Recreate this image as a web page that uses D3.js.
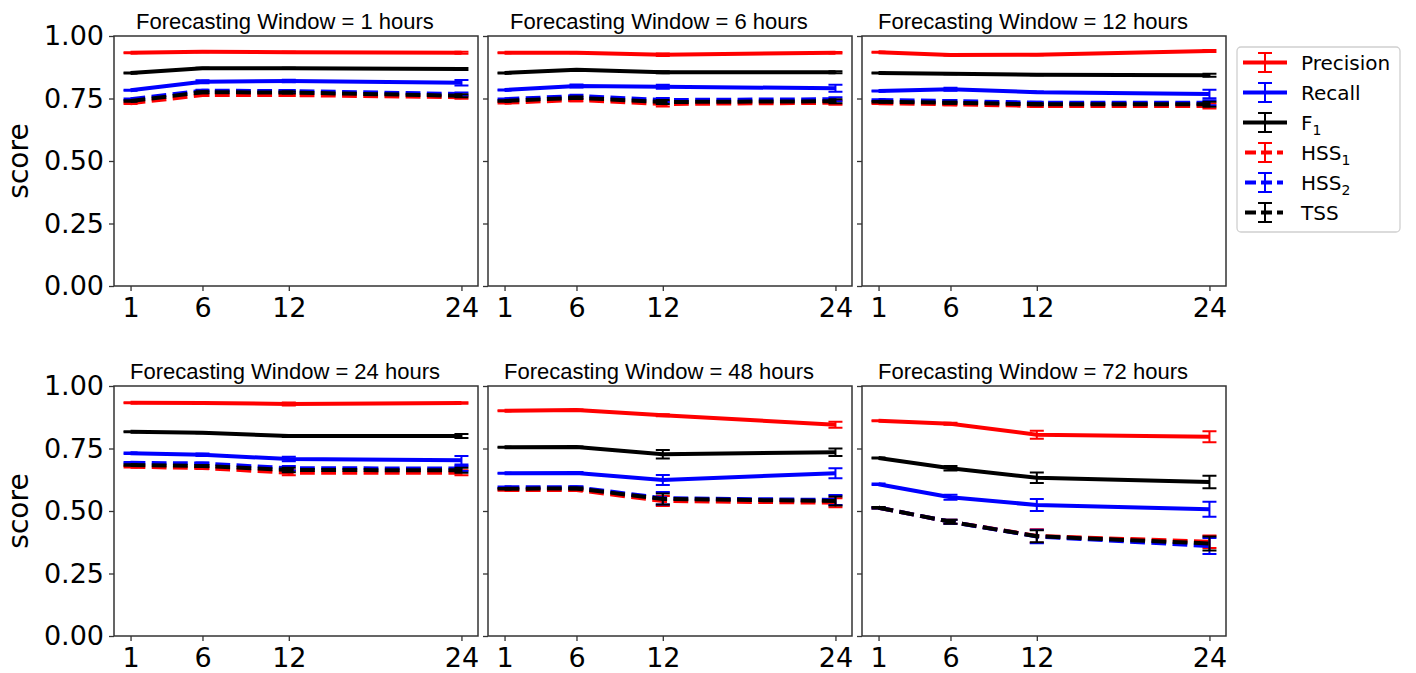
<!DOCTYPE html>
<html>
<head>
<meta charset="utf-8">
<script src="https://cdn.jsdelivr.net/npm/d3@7"></script>
<style>
  body { margin: 0; background: #fff; }
  svg { display: block; }
</style>
</head>
<body>
<script>
// score vs training window (hours), one panel per forecasting window

var hours = [1, 6, 12, 24];
var windows = [1, 6, 12, 24, 48, 72];
var yTicks = [0, 0.25, 0.5, 0.75, 1.0];

// one row per panel (window 1, 6, 12, 24, 48, 72), one value per hour
var precision = [
  [0.933, 0.937, 0.935, 0.933],
  [0.933, 0.933, 0.925, 0.933],
  [0.935, 0.924, 0.925, 0.940],
  [0.933, 0.932, 0.928, 0.932],
  [0.901, 0.904, 0.883, 0.845],
  [0.861, 0.849, 0.805, 0.797]
];
var precisionErr = [
  [0.002, 0.002, 0.002, 0.004],
  [0.002, 0.002, 0.005, 0.003],
  [0.002, 0.002, 0.002, 0.004],
  [0.002, 0.002, 0.006, 0.003],
  [0.002, 0.002, 0.004, 0.012],
  [0.002, 0.004, 0.016, 0.022]
];
var recall = [
  [0.783, 0.817, 0.820, 0.813],
  [0.784, 0.800, 0.797, 0.791],
  [0.780, 0.787, 0.775, 0.768],
  [0.731, 0.725, 0.708, 0.703],
  [0.651, 0.652, 0.624, 0.651],
  [0.607, 0.555, 0.524, 0.507]
];
var recallErr = [
  [0.002, 0.006, 0.005, 0.011],
  [0.002, 0.006, 0.008, 0.014],
  [0.002, 0.006, 0.003, 0.017],
  [0.003, 0.005, 0.009, 0.017],
  [0.002, 0.004, 0.020, 0.020],
  [0.003, 0.010, 0.024, 0.030]
];
var f1 = [
  [0.852, 0.871, 0.871, 0.868],
  [0.852, 0.865, 0.855, 0.855],
  [0.852, 0.849, 0.845, 0.843],
  [0.817, 0.813, 0.800, 0.800],
  [0.755, 0.756, 0.727, 0.735],
  [0.712, 0.671, 0.633, 0.616]
];
var f1Err = [
  [0.002, 0.002, 0.002, 0.004],
  [0.002, 0.002, 0.004, 0.004],
  [0.002, 0.002, 0.002, 0.006],
  [0.002, 0.002, 0.004, 0.008],
  [0.002, 0.002, 0.017, 0.015],
  [0.002, 0.009, 0.021, 0.025]
];
var hss1 = [
  [0.731, 0.764, 0.764, 0.755],
  [0.733, 0.744, 0.728, 0.733],
  [0.731, 0.727, 0.720, 0.720],
  [0.677, 0.672, 0.653, 0.653],
  [0.584, 0.584, 0.540, 0.533],
  [0.513, 0.457, 0.400, 0.377]
];
var hss1Err = [
  [0.003, 0.004, 0.004, 0.006],
  [0.003, 0.005, 0.010, 0.008],
  [0.003, 0.004, 0.004, 0.010],
  [0.003, 0.004, 0.010, 0.010],
  [0.003, 0.004, 0.020, 0.018],
  [0.003, 0.008, 0.027, 0.025]
];
var hss2 = [
  [0.747, 0.781, 0.780, 0.768],
  [0.747, 0.760, 0.744, 0.747],
  [0.744, 0.740, 0.733, 0.733],
  [0.693, 0.690, 0.671, 0.670],
  [0.595, 0.595, 0.551, 0.544],
  [0.513, 0.457, 0.398, 0.360]
];
var hss2Err = [
  [0.003, 0.004, 0.004, 0.006],
  [0.003, 0.005, 0.008, 0.008],
  [0.003, 0.004, 0.004, 0.010],
  [0.003, 0.004, 0.009, 0.010],
  [0.003, 0.004, 0.025, 0.020],
  [0.003, 0.008, 0.027, 0.032]
];
var tss = [
  [0.740, 0.775, 0.774, 0.761],
  [0.740, 0.753, 0.736, 0.739],
  [0.737, 0.733, 0.727, 0.727],
  [0.684, 0.680, 0.664, 0.663],
  [0.589, 0.590, 0.548, 0.540],
  [0.513, 0.457, 0.399, 0.370]
];
var tssErr = [
  [0.003, 0.004, 0.004, 0.006],
  [0.003, 0.005, 0.008, 0.008],
  [0.003, 0.004, 0.004, 0.010],
  [0.003, 0.004, 0.009, 0.010],
  [0.003, 0.004, 0.022, 0.018],
  [0.003, 0.008, 0.024, 0.028]
];

var series = [
  {name: "Precision", sub: "", values: precision, err: precisionErr, color: "#ff0000", dashed: false},
  {name: "Recall", sub: "", values: recall, err: recallErr, color: "#0000ff", dashed: false},
  {name: "F", sub: "1", values: f1, err: f1Err, color: "#000000", dashed: false},
  {name: "HSS", sub: "1", values: hss1, err: hss1Err, color: "#ff0000", dashed: true},
  {name: "HSS", sub: "2", values: hss2, err: hss2Err, color: "#0000ff", dashed: true},
  {name: "TSS", sub: "", values: tss, err: tssErr, color: "#000000", dashed: true}
];

var width = 1416;
var height = 673;
var panelW = 364;
var panelH = 250;
var colX = [114, 488, 862];
var rowY = [36, 386];
var capW = 7;

var svg = d3.select("body")
  .append("svg")
  .attr("width", width)
  .attr("height", height);

var x = d3.scaleLinear()
  .domain([-0.15, 25.15])
  .range([0, panelW]);

var y = d3.scaleLinear()
  .domain([0, 1])
  .range([panelH, 0]);

var line = d3.line()
  .x(function(d) { return x(d.h); })
  .y(function(d) { return y(d.v); });

windows.forEach(function(w, p) {
  var col = p % 3;
  var row = Math.floor(p / 3);

  var g = svg.append("g")
    .attr("transform", "translate(" + colX[col] + "," + rowY[row] + ")");

  // axes
  var xAxis = g.append("g")
    .attr("transform", "translate(0," + panelH + ")")
    .call(d3.axisBottom(x).tickValues(hours).tickSize(5).tickPadding(7));

  var yAxis = g.append("g")
    .call(d3.axisLeft(y).tickValues(yTicks).tickSize(5).tickPadding(5)
      .tickFormat(col == 0 ? d3.format(".2f") : function() { return ""; }));

  [xAxis, yAxis].forEach(function(a) {
    a.select(".domain").remove();
    a.selectAll(".tick line").attr("stroke", "#333").attr("stroke-width", 1.3);
    a.selectAll(".tick text")
      .attr("fill", "#000")
      .style("font-family", "DejaVu Sans")
      .style("font-size", "27px");
  });

  // lines + error bars
  series.forEach(function(s) {
    var pts = hours.map(function(h, i) {
      return {h: h, v: s.values[p][i], e: s.err[p][i]};
    });

    g.append("path")
      .datum(pts)
      .attr("fill", "none")
      .attr("stroke", s.color)
      .attr("stroke-width", 4)
      .attr("stroke-dasharray", s.dashed ? "14.8,6.4" : null)
      .attr("d", line);

    var eb = g.selectAll(null)
      .data(pts)
      .enter()
      .append("g")
      .attr("stroke", s.color)
      .attr("stroke-width", 2);

    eb.append("line")
      .attr("x1", function(d) { return x(d.h); })
      .attr("x2", function(d) { return x(d.h); })
      .attr("y1", function(d) { return y(d.v - d.e); })
      .attr("y2", function(d) { return y(d.v + d.e); });

    eb.append("line")
      .attr("x1", function(d) { return x(d.h) - capW; })
      .attr("x2", function(d) { return x(d.h) + capW; })
      .attr("y1", function(d) { return y(d.v + d.e); })
      .attr("y2", function(d) { return y(d.v + d.e); });

    eb.append("line")
      .attr("x1", function(d) { return x(d.h) - capW; })
      .attr("x2", function(d) { return x(d.h) + capW; })
      .attr("y1", function(d) { return y(d.v - d.e); })
      .attr("y2", function(d) { return y(d.v - d.e); });
  });

  // frame
  g.append("rect")
    .attr("width", panelW)
    .attr("height", panelH)
    .attr("fill", "none")
    .attr("stroke", "#333")
    .attr("stroke-width", 1.5);

  g.append("text")
    .attr("x", panelW / 2 - 11)
    .attr("y", -7)
    .attr("text-anchor", "middle")
    .style("font-family", "Liberation Sans")
    .style("font-size", "22px")
    .text("Forecasting Window = " + w + " hours");

  if (col == 0) {
    svg.append("text")
      .attr("transform", "translate(28," + (rowY[row] + panelH / 2) + ") rotate(-90)")
      .attr("text-anchor", "middle")
      .style("font-family", "DejaVu Sans")
      .style("font-size", "28px")
      .text("score");
  }
});

// legend
var lg = svg.append("g")
  .attr("transform", "translate(1237,47)");

lg.append("rect")
  .attr("width", 163)
  .attr("height", 185)
  .attr("rx", 4)
  .attr("fill", "#fff")
  .attr("stroke", "#d0d0d0")
  .attr("stroke-width", 1.3);

series.forEach(function(s, i) {
  var cy = 15.5 + i * 30;
  var item = lg.append("g");

  item.append("line")
    .attr("x1", s.dashed ? 8 : 6)
    .attr("x2", s.dashed ? 46 : 50)
    .attr("y1", cy)
    .attr("y2", cy)
    .attr("stroke", s.color)
    .attr("stroke-width", 4)
    .attr("stroke-dasharray", s.dashed ? "11,5" : null);

  item.append("line")
    .attr("x1", 28).attr("x2", 28)
    .attr("y1", cy - 9.5).attr("y2", cy + 9.5)
    .attr("stroke", s.color).attr("stroke-width", 2);

  [-9.5, 9.5].forEach(function(o) {
    item.append("line")
      .attr("x1", 28 - capW).attr("x2", 28 + capW)
      .attr("y1", cy + o).attr("y2", cy + o)
      .attr("stroke", s.color).attr("stroke-width", 2);
  });

  var t = item.append("text")
    .attr("x", 64)
    .attr("y", cy + 7)
    .style("font-family", "DejaVu Sans")
    .style("font-size", "20px")
    .text(s.name);

  if (s.sub) {
    t.append("tspan")
      .attr("dy", 5)
      .style("font-size", "14px")
      .text(s.sub);
  }
});
</script>
</body>
</html>
